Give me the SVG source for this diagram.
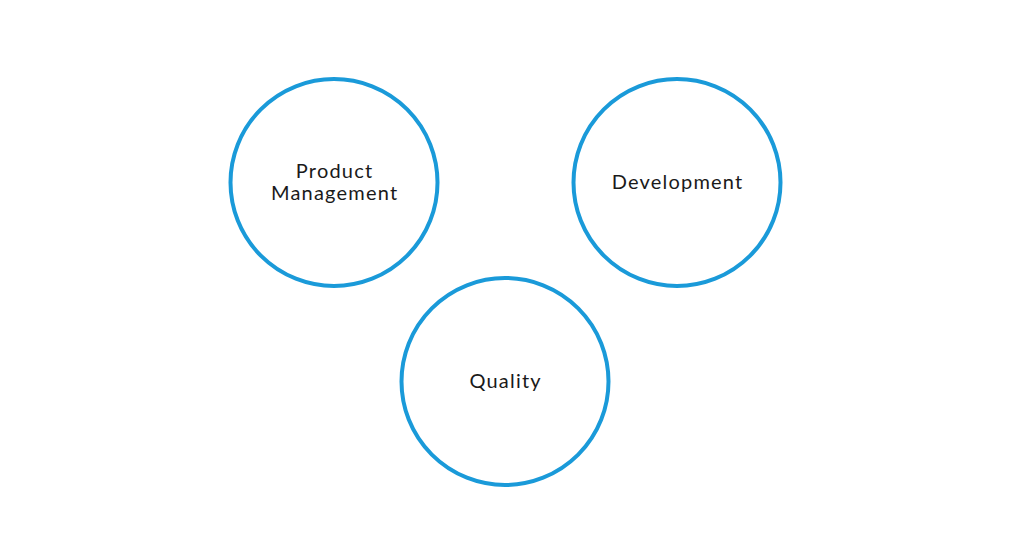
<svg xmlns="http://www.w3.org/2000/svg" width="1022" height="539" viewBox="0 0 1022 539">
<style>
.c{fill:#fff;stroke:#1a9ad9;stroke-width:4}
.t{font-family:Lato,"Noto Sans",sans-serif;font-size:20px;letter-spacing:1.2px;fill:#1a1a1a;text-anchor:middle}
</style>
<rect width="1022" height="539" fill="#fff"/>
<g id="connectors"></g>
<g id="product-management">
<circle class="c" cx="334" cy="182.5" r="103.5"/>
<text class="t" x="334.6" y="177.5">Product</text>
<text class="t" x="334.6" y="199.5">Management</text>
</g>
<g id="development">
<circle class="c" cx="677" cy="182.5" r="103.5"/>
<text class="t" x="677.6" y="189">Development</text>
</g>
<g id="quality">
<circle class="c" cx="505" cy="381.5" r="103.5"/>
<text class="t" x="505.6" y="388">Quality</text>
</g>
</svg>
